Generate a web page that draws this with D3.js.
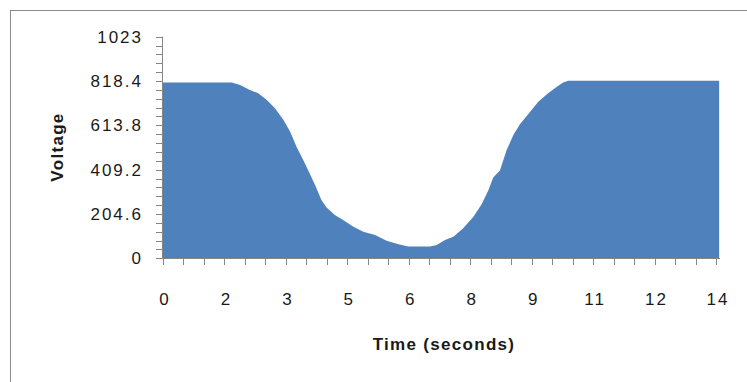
<!DOCTYPE html>
<html>
<head>
<meta charset="utf-8">
<script src="https://cdn.jsdelivr.net/npm/d3@7"></script>
<style>
  html, body { margin: 0; padding: 0; background: #fff; }
  svg { display: block; }
</style>
</head>
<body>
<svg id="chart" width="747" height="382"></svg>
<script>
// ---- data ----
const times = [0, 1.74, 1.95, 2.20, 2.41, 2.63, 2.84, 3.05, 3.22, 3.38, 3.55, 3.72, 3.85, 4.01, 4.14, 4.35, 4.56, 4.82, 5.07, 5.37, 5.66, 5.96, 6.21, 6.76, 6.93, 7.14, 7.35, 7.60, 7.86, 8.07, 8.24, 8.36, 8.53, 8.70, 8.87, 9.04, 9.25, 9.50, 9.75, 9.97, 10.13, 10.26, 14.08];
const voltage = [812, 812, 800, 777, 762, 731, 692, 638, 584, 515, 454, 389, 338, 269, 234, 200, 177, 146, 123, 108, 81, 65, 54, 54, 61, 84, 100, 139, 192, 251, 315, 373, 405, 500, 569, 620, 666, 723, 762, 792, 811, 820, 820];
const yTickValues = [0, 204.6, 409.2, 613.8, 818.4, 1023];
const yTickLabels = ["0", "204.6", "409.2", "613.8", "818.4", "1023"];
const xLabelTimes = [0, 14/9, 28/9, 42/9, 56/9, 70/9, 84/9, 98/9, 112/9, 14];
const xTickLabels = ["0", "2", "3", "5", "6", "8", "9", "11", "12", "14"];
const xTitle = "Time (seconds)";
const yTitle = "Voltage";

// ---- layout ----
const svg = d3.select("#chart");
const x = d3.scaleLinear().domain([0, 14]).range([163, 716]);
const y = d3.scaleLinear().domain([0, 1023]).range([258.3, 36.7]);
const axisColor = "#868686";
const textColor = "#1a1a1a";
const font = "'Liberation Sans', Arial, sans-serif";

// chart border
svg.append("rect")
  .attr("x", 10.5).attr("y", 10.5)
  .attr("width", 900).attr("height", 500)
  .attr("fill", "#fff").attr("stroke", "#8c8c8c").attr("stroke-width", 1);

const data = times.map((t, i) => ({ t, v: voltage[i] }));

// area
svg.append("path")
  .datum(data)
  .attr("fill", "#4f81bd")
  .attr("d", d3.area().x(d => x(d.t)).y0(y(0)).y1(d => y(d.v)));

// y axis line
svg.append("line")
  .attr("x1", 162.5).attr("x2", 162.5)
  .attr("y1", y(1023)).attr("y2", y(0) + 0.5)
  .attr("stroke", axisColor);

// y ticks (major + minor, every 1/5 of major)
const yMinor = d3.range(0, 26).map(i => i * 1023 / 25);
svg.append("g").selectAll("line").data(yMinor).join("line")
  .attr("x1", 156).attr("x2", 162.5)
  .attr("y1", d => Math.round(y(d)) + 0.5).attr("y2", d => Math.round(y(d)) + 0.5)
  .attr("stroke", axisColor);

svg.append("g").selectAll("text").data(yTickValues).join("text")
  .attr("x", 143).attr("y", d => y(d))
  .attr("dy", "0.36em")
  .attr("text-anchor", "end")
  .attr("font-family", font).attr("font-size", 17)
  .attr("letter-spacing", 2)
  .attr("fill", textColor)
  .text((d, i) => yTickLabels[i]);

// x axis line
svg.append("line")
  .attr("x1", 162.5).attr("x2", 720)
  .attr("y1", 258.5).attr("y2", 258.5)
  .attr("stroke", axisColor);

// x ticks every 14/27 s
const xMinor = d3.range(0, 28).map(i => i * 14 / 27);
svg.append("g").selectAll("line").data(xMinor).join("line")
  .attr("x1", d => Math.round(x(d)) + 0.5).attr("x2", d => Math.round(x(d)) + 0.5)
  .attr("y1", 258.5).attr("y2", 265)
  .attr("stroke", axisColor);

svg.append("g").selectAll("text").data(xLabelTimes).join("text")
  .attr("x", d => x(d) + 2).attr("y", 305)
  .attr("text-anchor", "middle")
  .attr("font-family", font).attr("font-size", 17)
  .attr("letter-spacing", 2)
  .attr("fill", textColor)
  .text((d, i) => xTickLabels[i]);

// titles
svg.append("text")
  .attr("x", 444).attr("y", 350)
  .attr("text-anchor", "middle")
  .attr("font-family", font).attr("font-size", 17).attr("font-weight", "bold")
  .attr("letter-spacing", 1.3)
  .attr("fill", textColor)
  .text(xTitle);

svg.append("text")
  .attr("transform", "translate(63,147) rotate(-90)")
  .attr("text-anchor", "middle")
  .attr("font-family", font).attr("font-size", 17).attr("font-weight", "bold")
  .attr("letter-spacing", 1.3)
  .attr("fill", textColor)
  .text(yTitle);
</script>
</body>
</html>
